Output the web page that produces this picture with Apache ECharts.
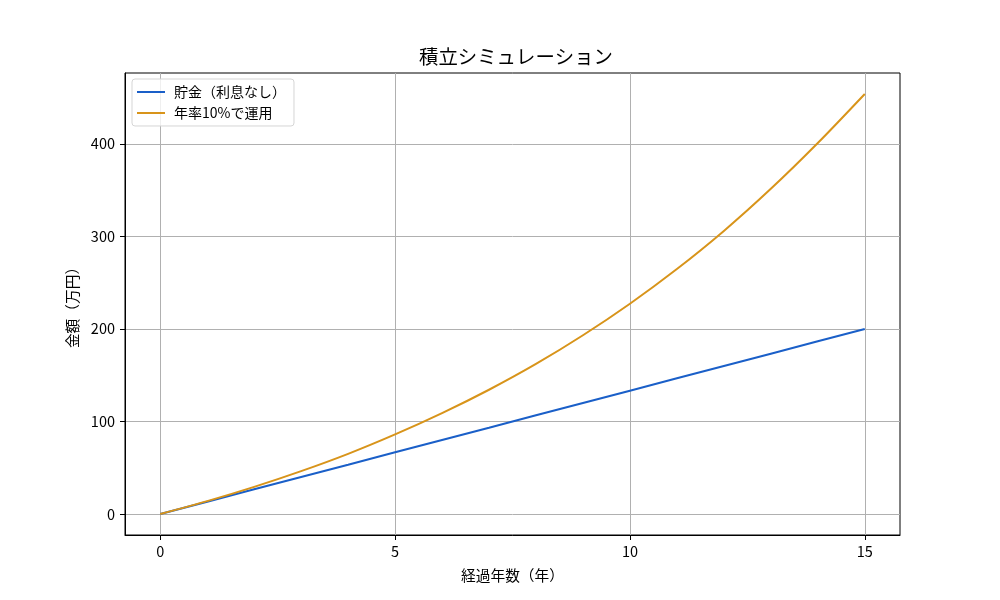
<!DOCTYPE html>
<html>
<head>
<meta charset="utf-8">
<script src="https://cdn.jsdelivr.net/npm/echarts@6/dist/echarts.min.js"></script>
<style>
	html, body { margin: 0; padding: 0; background: #fff; }
	#chart { width: 1000px; height: 600px; }
</style>
</head>
<body>
<div id="chart"></div>
<script type="text/javascript">
	// 経過年数
	var years = [0, 1, 2, 3, 4, 5, 6, 7, 8, 9, 10, 11, 12, 13, 14, 15];
	// 貯金（利息なし）
	var savings = [0, 13.3, 26.7, 40, 53.3, 66.7, 80, 93.3, 106.7, 120, 133.3, 146.7, 160, 173.3, 186.7, 200];
	// 年率10%で運用
	var invest = [0, 13.9, 29.3, 46.3, 65, 86, 109, 134.3, 162.2, 193.2, 227.3, 264.8, 306, 351.5, 401, 454];
	var xTicks = [0, 5, 10, 15];
	var yTicks = [0, 100, 200, 300, 400];

	var FONT = '"Noto Sans CJK JP", "DejaVu Sans", sans-serif';

	function pairs(xs, ys) {
		var out = [];
		for (var i = 0; i < xs.length; i++) {
			out.push([xs[i], ys[i]]);
		}
		return out;
	}

	var chart = echarts.init(document.getElementById('chart'));
	var option = {
		animation: false,
		textStyle: { fontFamily: FONT },
		title: {
			text: '積立シミュレーション',
			left: 511,
			top: 42,
			textAlign: 'center',
			textStyle: { fontFamily: FONT, fontSize: 19.4, fontWeight: 'normal', color: '#000' }
		},
		legend: {
			left: 132,
			top: 79,
			orient: 'vertical',
			itemWidth: 28,
			itemHeight: 2,
			itemGap: 7,
			padding: [6, 8, 6, 5],
			borderColor: '#d5d5d5',
			borderWidth: 1,
			borderRadius: 3,
			backgroundColor: 'rgba(255,255,255,0.8)',
			textStyle: { fontFamily: FONT, fontSize: 14, color: '#000', padding: [0, 0, 0, 4] },
			icon: 'rect',
			data: ['貯金（利息なし）', '年率10%で運用']
		},
		grid: {
			left: 125,
			right: 100,
			top: 73,
			bottom: 65,
			show: true,
			borderColor: '#000',
			borderWidth: 1
		},
		xAxis: {
			type: 'value',
			min: -0.75,
			max: 15.75,
			name: '経過年数（年）',
			nameLocation: 'middle',
			nameGap: 33,
			nameTextStyle: { fontFamily: FONT, fontSize: 14.7, color: '#000' },
			axisLine: { show: true, onZero: false, lineStyle: { color: '#000' } },
			axisTick: { show: true, length: 5, customValues: xTicks, lineStyle: { color: '#000' } },
			axisLabel: { customValues: xTicks, fontSize: 14.5, color: '#000', margin: 9, fontFamily: FONT },
			splitLine: { show: true, lineStyle: { color: '#b0b0b0', width: 1 } }
		},
		yAxis: {
			type: 'value',
			min: -22.7,
			max: 476.7,
			name: '金額（万円）',
			nameLocation: 'middle',
			nameGap: 45,
			nameRotate: 90,
			nameTextStyle: { fontFamily: FONT, fontSize: 14.7, color: '#000' },
			axisLine: { show: true, onZero: false, lineStyle: { color: '#000' } },
			axisTick: { show: true, length: 5, customValues: yTicks, lineStyle: { color: '#000' } },
			axisLabel: { customValues: yTicks, fontSize: 14.5, color: '#000', margin: 10, fontFamily: FONT },
			splitLine: { show: true, lineStyle: { color: '#b0b0b0', width: 1 } }
		},
		series: [{
			name: '貯金（利息なし）',
			type: 'line',
			data: pairs(years, savings),
			showSymbol: false,
			lineStyle: { color: '#1a5fc8', width: 2 },
			itemStyle: { color: '#1a5fc8' }
		}, {
			name: '年率10%で運用',
			type: 'line',
			smooth: 0.3,
			data: pairs(years, invest),
			showSymbol: false,
			lineStyle: { color: '#d8941a', width: 2 },
			itemStyle: { color: '#d8941a' }
		}]
	};
	chart.setOption(option);
</script>
</body>
</html>
